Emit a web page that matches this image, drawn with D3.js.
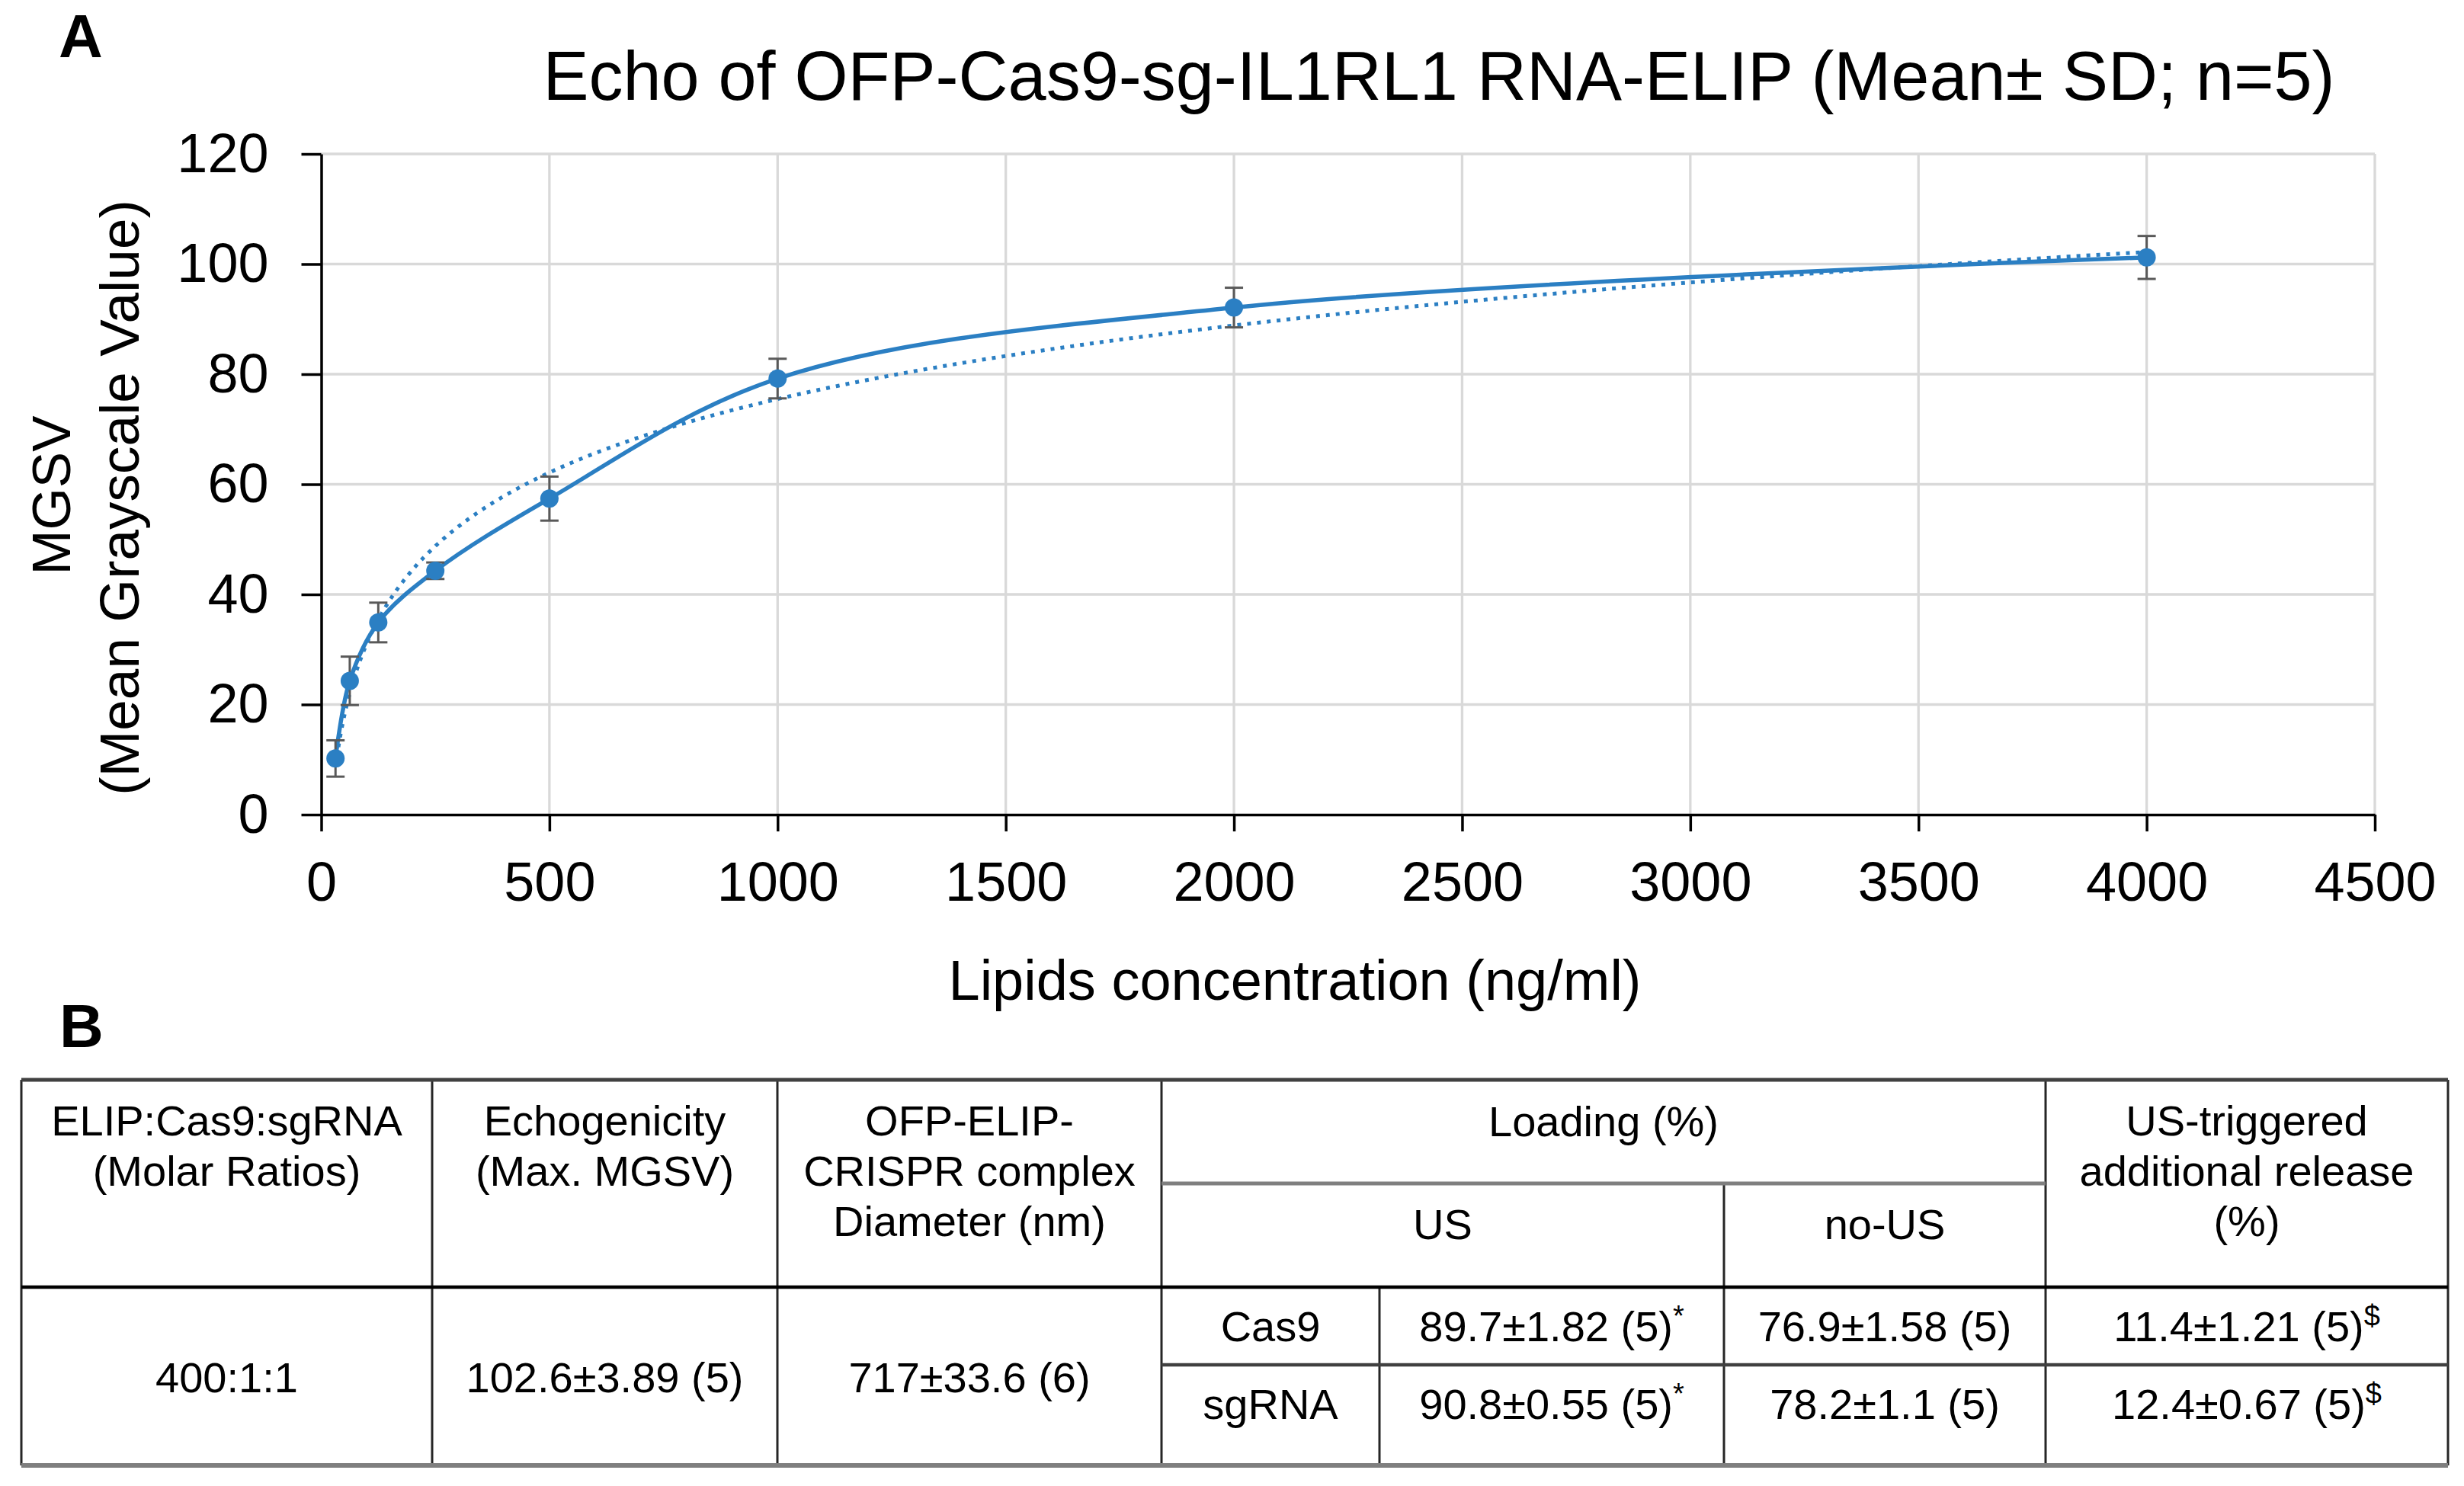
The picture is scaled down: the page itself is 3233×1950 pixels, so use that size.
<!DOCTYPE html>
<html>
<head>
<meta charset="utf-8">
<script src="https://cdn.jsdelivr.net/npm/d3@7"></script>
<style>
  body { margin: 0; background: #fff; }
  svg text { font-family: "Liberation Sans", Arial, sans-serif; fill: #000; }
</style>
</head>
<body>
<svg id="fig"></svg>
<script>
// ---- panel A data ----
const lipidConc = [31.25, 62.5, 125, 250, 500, 1000, 2000, 4000];
const mgsvMean  = [10.2, 24.3, 34.9, 44.3, 57.4, 79.2, 92.1, 101.2];
const mgsvSD    = [3.3, 4.4, 3.6, 1.5, 4.0, 3.6, 3.6, 3.9];
const xTicks = [0, 500, 1000, 1500, 2000, 2500, 3000, 3500, 4000, 4500];
const yTicks = [0, 20, 40, 60, 80, 100, 120];

// ---- panel B table ----
const headTop    = ["ELIP:Cas9:sgRNA|(Molar Ratios)", "Echogenicity|(Max. MGSV)", "OFP-ELIP-|CRISPR complex|Diameter (nm)"];
const loadingHead = "Loading (%)";
const loadingSub  = ["US", "no-US"];
const releaseHead = "US-triggered|additional release|(%)";
const spanValues  = ["400:1:1", "102.6±3.89 (5)", "717±33.6 (6)"];
const rowLabels   = ["Cas9", "sgRNA"];
const usValues    = ["89.7±1.82 (5)", "90.8±0.55 (5)"];
const noUsValues  = ["76.9±1.58 (5)", "78.2±1.1 (5)"];
const releaseVals = ["11.4±1.21 (5)", "12.4±0.67 (5)"];

const W = 3233, H = 1950;
const blue = "#2b7fc3";

const svg = d3.select("#fig").attr("width", W).attr("height", H);
svg.append("rect").attr("width", W).attr("height", H).attr("fill", "#fff");

// ---------- Panel A ----------
const x = d3.scaleLinear().domain([0, 4500]).range([421.5, 3116]);
const y = d3.scaleLinear().domain([0, 120]).range([1069, 202]);

svg.append("text").attr("x", 77).attr("y", 75)
  .style("font-size", "80px").style("font-weight", "bold").text("A");

svg.append("text").attr("x", 1888).attr("y", 131).attr("text-anchor", "middle")
  .style("font-size", "90px").text("Echo of OFP-Cas9-sg-IL1RL1 RNA-ELIP (Mean± SD; n=5)");

const grid = svg.append("g").attr("stroke", "#d9d9d9").attr("stroke-width", 3.3);
grid.selectAll(".hg").data(yTicks.slice(1)).join("line")
  .attr("x1", x(0)).attr("x2", x(4500))
  .attr("y1", d => y(d)).attr("y2", d => y(d));
grid.selectAll(".vg").data(xTicks.slice(1)).join("line")
  .attr("x1", d => x(d)).attr("x2", d => x(d))
  .attr("y1", y(0)).attr("y2", y(120));

const xAxis = svg.append("g").attr("transform", `translate(0,${y(0)})`)
  .call(d3.axisBottom(x).tickValues(xTicks).tickFormat(d3.format("d"))
    .tickSize(22).tickSizeOuter(0).tickPadding(40));
const yAxis = svg.append("g").attr("transform", `translate(${x(0)},0)`)
  .call(d3.axisLeft(y).tickValues(yTicks).tickSize(26).tickSizeOuter(0).tickPadding(43));
[xAxis, yAxis].forEach(a => {
  a.select(".domain").attr("stroke", "#000").attr("stroke-width", 3.5);
  a.selectAll(".tick line").attr("stroke", "#000").attr("stroke-width", 3.5);
  a.selectAll(".tick text").attr("fill", "#000")
    .style("font-size", "72px").style("font-family", "'Liberation Sans', Arial, sans-serif");
});

svg.append("text").attr("x", 1699).attr("y", 1312).attr("text-anchor", "middle")
  .style("font-size", "74px").text("Lipids concentration (ng/ml)");
svg.append("text").attr("transform", "translate(92,650) rotate(-90)")
  .attr("text-anchor", "middle").style("font-size", "71px").text("MGSV");
svg.append("text").attr("transform", "translate(182,653) rotate(-90)")
  .attr("text-anchor", "middle").style("font-size", "73px").text("(Mean Grayscale Value)");

const pts = lipidConc.map((c, i) => ({ c, m: mgsvMean[i], sd: mgsvSD[i] }));

// logarithmic trendline, least-squares fit of mean on ln(conc), as the spreadsheet does
const lx = pts.map(p => Math.log(p.c));
const mx = d3.mean(lx), my = d3.mean(mgsvMean);
const slope = d3.sum(lx.map((v, i) => (v - mx) * (mgsvMean[i] - my))) / d3.sum(lx.map(v => (v - mx) ** 2));
const icpt = my - slope * mx;
const lo = Math.log(lipidConc[0]), hi = Math.log(lipidConc[lipidConc.length - 1]);
const trend = d3.range(0, 401).map(k => {
  const c = Math.exp(lo + k / 400 * (hi - lo));
  return { c, m: slope * Math.log(c) + icpt };
});

svg.append("path").datum(pts)
  .attr("fill", "none").attr("stroke", blue).attr("stroke-width", 5.5)
  .attr("d", d3.line().x(d => x(d.c)).y(d => y(d.m)).curve(d3.curveCatmullRom.alpha(0.5)));

svg.append("path").datum(trend)
  .attr("fill", "none").attr("stroke", blue).attr("stroke-width", 5)
  .attr("stroke-dasharray", "5 8")
  .attr("d", d3.line().x(d => x(d.c)).y(d => y(d.m)));

const eb = svg.append("g").attr("stroke", "#595959").attr("stroke-width", 3);
eb.selectAll(".v").data(pts).join("line")
  .attr("x1", d => x(d.c)).attr("x2", d => x(d.c))
  .attr("y1", d => y(d.m + d.sd)).attr("y2", d => y(d.m - d.sd));
eb.selectAll(".t").data(pts).join("line")
  .attr("x1", d => x(d.c) - 12).attr("x2", d => x(d.c) + 12)
  .attr("y1", d => y(d.m + d.sd)).attr("y2", d => y(d.m + d.sd));
eb.selectAll(".b").data(pts).join("line")
  .attr("x1", d => x(d.c) - 12).attr("x2", d => x(d.c) + 12)
  .attr("y1", d => y(d.m - d.sd)).attr("y2", d => y(d.m - d.sd));

svg.selectAll(".dot").data(pts).join("circle")
  .attr("cx", d => x(d.c)).attr("cy", d => y(d.m)).attr("r", 12).attr("fill", blue);

// ---------- Panel B ----------
svg.append("text").attr("x", 78).attr("y", 1374)
  .style("font-size", "80px").style("font-weight", "bold").text("B");

const colX = [28, 567, 1020, 1524, 1810, 2262, 2684, 3212];
const rowY = { top: 1417, sub: 1553, head: 1689, mid: 1791, bot: 1923 };
const tb = svg.append("g");
const fs = 56;

function hline(x1, x2, yy, col, w) {
  tb.append("line").attr("x1", x1).attr("x2", x2).attr("y1", yy).attr("y2", yy)
    .attr("stroke", col).attr("stroke-width", w);
}
function vline(xx, y1, y2) {
  tb.append("line").attr("x1", xx).attr("x2", xx).attr("y1", y1).attr("y2", y2)
    .attr("stroke", "#262626").attr("stroke-width", 3);
}
function cellText(cx, baseY, str, sup) {
  const lines = str.split("|");
  const t = tb.append("text").attr("text-anchor", "middle").style("font-size", fs + "px");
  lines.forEach((ln, i) => {
    t.append("tspan").attr("x", cx).attr("y", baseY + i * 66).text(ln);
  });
  if (sup) {
    t.append("tspan").attr("dy", -20).style("font-size", "38px").text(sup);
  }
}

[colX[0], colX[1], colX[2], colX[3], colX[6], colX[7]].forEach(xx => vline(xx, rowY.top, rowY.bot));
vline(colX[5], rowY.sub, rowY.bot);
vline(colX[4], rowY.head, rowY.bot);

hline(colX[0], colX[7], rowY.top, "#404040", 5);
hline(colX[3], colX[6], rowY.sub, "#7f7f7f", 5);
hline(colX[0], colX[7], rowY.head, "#000", 4.5);
hline(colX[3], colX[7], rowY.mid, "#404040", 4.5);
hline(colX[0], colX[7], rowY.bot, "#7f7f7f", 6);

const mid = i => (colX[i] + colX[i + 1]) / 2;
headTop.forEach((s, i) => cellText(mid(i), 1490, s));
cellText((colX[3] + colX[6]) / 2, 1491, loadingHead);
cellText((colX[3] + colX[5]) / 2, 1626, loadingSub[0]);
cellText(mid(5), 1626, loadingSub[1]);
cellText(mid(6), 1490, releaseHead);

spanValues.forEach((s, i) => cellText(mid(i), 1827, s));
const rowBase = [1760, 1862];
rowLabels.forEach((s, r) => {
  cellText(mid(3), rowBase[r], s);
  cellText(mid(4), rowBase[r], usValues[r], "*");
  cellText(mid(5), rowBase[r], noUsValues[r]);
  cellText(mid(6), rowBase[r], releaseVals[r], "$");
});
</script>
</body>
</html>
